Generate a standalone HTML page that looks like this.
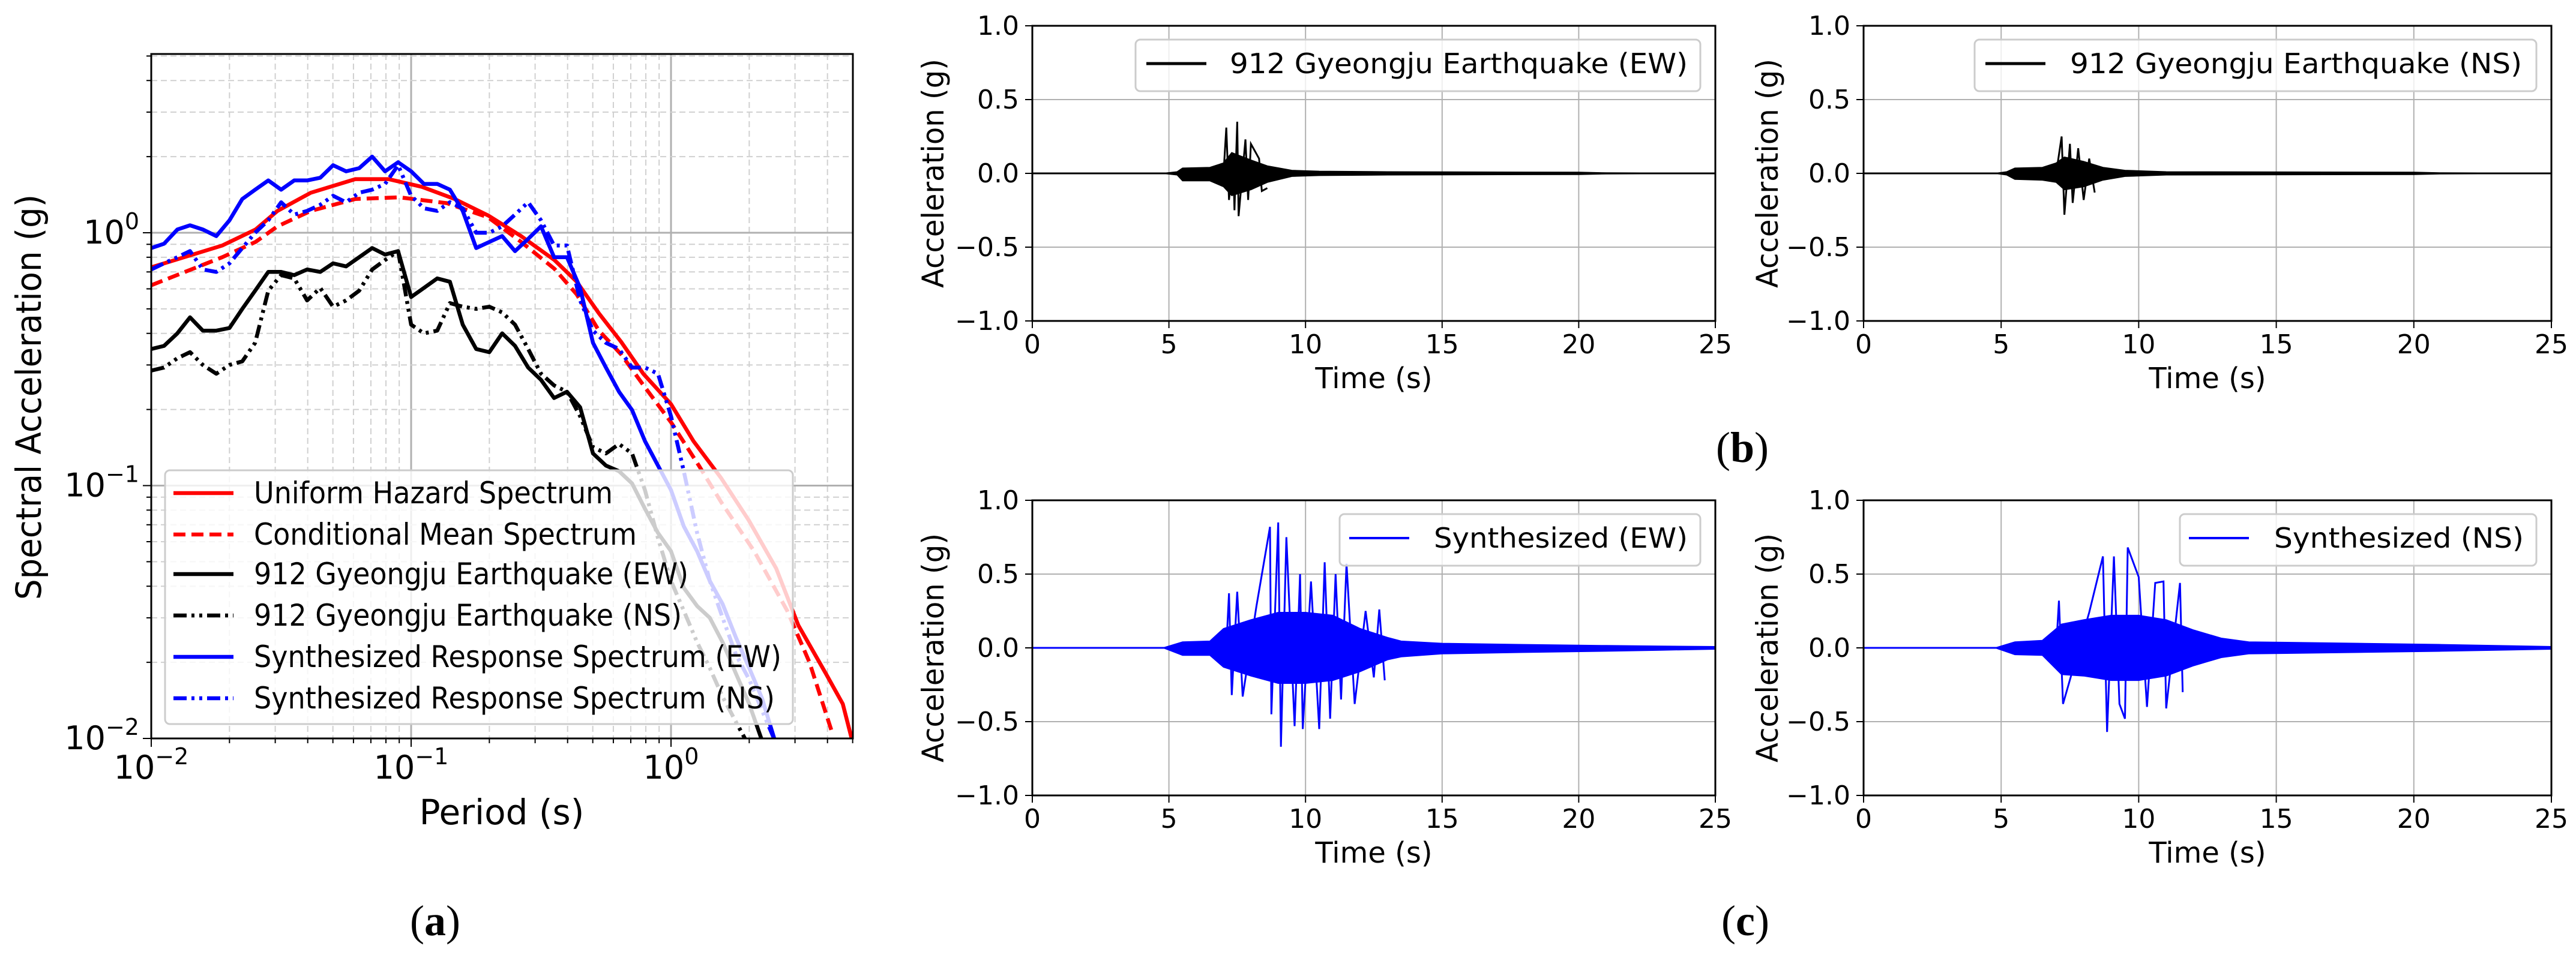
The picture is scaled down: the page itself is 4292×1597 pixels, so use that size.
<!DOCTYPE html>
<html><head><meta charset="utf-8"><style>
html,body{margin:0;padding:0;background:#fff;}
svg{display:block;font-family:"DejaVu Sans","Liberation Sans",sans-serif;}
</style></head><body>
<svg id="fig" width="4292" height="1597" viewBox="0 0 4292 1597" xmlns="http://www.w3.org/2000/svg">
<rect width="4292" height="1597" fill="#fff"/>
</svg>
<script>
// ---------- Panel (a) data ----------
const periodGrid = [0.01,0.0112,0.0126,0.0141,0.0158,0.0178,0.02,0.0224,0.0251,0.0282,0.0316,0.0355,0.0398,0.0447,0.0501,0.0562,0.0631,0.0708,0.0794,0.0891,0.1,0.112,0.126,0.141,0.158,0.178,0.2,0.224,0.251,0.282,0.316,0.355,0.398,0.447,0.501,0.562,0.631,0.708,0.794,0.891,1,1.12,1.26,1.41,1.58,1.78,2,2.24,2.51,2.82,3.16,3.55,3.98,4.47,5.01];
const uhsPeriods = [0.01,0.01875,0.0252,0.0306,0.0411,0.061,0.0818,0.110,0.147,0.198,0.265,0.356,0.434,0.528,0.643,0.782,1.0,1.22,1.56,1.99,2.54,3.09,3.95,4.58,4.98];
const uhsSa = [0.73,0.89,1.03,1.22,1.44,1.63,1.63,1.52,1.36,1.17,0.97,0.78,0.64,0.48,0.37,0.277,0.21,0.15,0.107,0.073,0.047,0.028,0.018,0.0137,0.0098];
const cmsPeriods = [0.01,0.01875,0.0252,0.0306,0.0411,0.061,0.0902,0.137,0.198,0.265,0.356,0.434,0.528,0.643,0.782,1.0,1.28,1.56,2.09,2.8,3.41,4.15];
const cmsSa = [0.62,0.80,0.92,1.06,1.22,1.36,1.38,1.31,1.15,0.92,0.72,0.57,0.41,0.33,0.25,0.178,0.12,0.086,0.055,0.032,0.020,0.0107];
const ewSa = [0.347,0.357,0.40,0.463,0.41,0.41,0.42,0.50,0.59,0.70,0.70,0.68,0.716,0.70,0.757,0.736,0.80,0.87,0.82,0.846,0.557,0.605,0.66,0.64,0.433,0.347,0.337,0.40,0.357,0.293,0.262,0.222,0.235,0.204,0.134,0.12,0.114,0.102,0.081,0.065,0.055,0.0394,0.0334,0.030,0.024,0.018,0.0137,0.0098];
const nsSa = [0.285,0.293,0.319,0.337,0.30,0.277,0.30,0.31,0.367,0.59,0.68,0.66,0.54,0.605,0.51,0.54,0.59,0.716,0.78,0.846,0.433,0.40,0.41,0.527,0.51,0.50,0.51,0.484,0.433,0.347,0.277,0.249,0.235,0.188,0.142,0.134,0.146,0.134,0.096,0.062,0.042,0.032,0.024,0.019,0.0146,0.0116,0.0093];
const synEwSa = [0.87,0.905,1.03,1.07,1.03,0.97,1.12,1.36,1.48,1.61,1.48,1.61,1.61,1.65,1.85,1.75,1.80,2.0,1.75,1.90,1.75,1.56,1.56,1.48,1.22,0.87,0.92,0.97,0.846,0.946,1.06,0.80,0.80,0.605,0.367,0.293,0.235,0.199,0.15,0.12,0.096,0.069,0.055,0.042,0.034,0.025,0.019,0.0144,0.0098];
const synNsSa = [0.716,0.757,0.80,0.846,0.716,0.70,0.757,0.87,1.0,1.12,1.32,1.18,1.22,1.29,1.40,1.32,1.44,1.48,1.56,1.85,1.40,1.25,1.22,1.32,1.25,1.0,1.0,1.06,1.18,1.32,1.12,0.89,0.89,0.54,0.41,0.367,0.347,0.293,0.293,0.277,0.188,0.114,0.065,0.042,0.030,0.0214,0.0171,0.0129,0.0098];
const legendLabelsA = ["Uniform Hazard Spectrum","Conditional Mean Spectrum","912 Gyeongju Earthquake (EW)","912 Gyeongju Earthquake (NS)","Synthesized Response Spectrum (EW)","Synthesized Response Spectrum (NS)"];
const xTickExpA = ["\u22122","\u22121","0"];
const yTickExpA = ["0","\u22121","\u22122"];

// ---------- Time-history data ----------
const timeTicks = [0,5,10,15,20,25];
const accTicks = [1.0,0.5,0.0,-0.5,-1.0];
const accTickLabels = ["1.0","0.5","0.0","\u22120.5","\u22121.0"];
const bEwEnvT = [0,4.8,5.3,5.5,6.5,7.0,7.3,8.0,8.6,9.5,10.5,13,20,21,25];
const bEwUp  = [0,0,0.01,0.035,0.04,0.07,0.14,0.09,0.05,0.02,0.014,0.01,0.007,0.003,0];
const bEwLo  = [0,0,-0.01,-0.05,-0.05,-0.09,-0.15,-0.11,-0.06,-0.02,-0.014,-0.01,-0.007,-0.003,0];
const bEwPkT = [7.0,7.1,7.2,7.35,7.4,7.5,7.55,7.8,7.9,8.0,8.3,8.4,8.6];
const bEwPkV = [0.0,0.31,-0.18,0.10,-0.25,0.35,-0.29,0.23,-0.18,0.20,0.10,-0.12,-0.10];
const bNsEnvT = [0,4.8,5.2,5.5,6.5,7.0,7.3,8.0,8.7,9.5,11,20,21,25];
const bNsUp  = [0,0,0.01,0.035,0.04,0.07,0.11,0.08,0.04,0.02,0.01,0.007,0.003,0];
const bNsLo  = [0,0,-0.01,-0.04,-0.045,-0.06,-0.11,-0.09,-0.045,-0.02,-0.01,-0.007,-0.003,0];
const bNsPkT = [7.0,7.2,7.3,7.5,7.6,7.8,8.0,8.2,8.4];
const bNsPkV = [0.0,0.25,-0.28,0.20,-0.20,0.17,-0.18,0.10,-0.13];
const cEwEnvT = [0,4.8,5.5,6.5,7.0,8.0,9.0,10.0,11.0,12.0,13.0,13.5,15,18,21,23,25];
const cEwUp  = [0,0,0.04,0.045,0.13,0.19,0.24,0.24,0.22,0.13,0.07,0.045,0.03,0.022,0.015,0.011,0.008];
const cEwLo  = [0,0,-0.05,-0.05,-0.13,-0.19,-0.24,-0.24,-0.22,-0.16,-0.08,-0.06,-0.04,-0.03,-0.022,-0.015,-0.008];
const cEwPkT = [7.1,7.2,7.3,7.5,7.7,8.2,8.7,8.75,9.0,9.1,9.3,9.6,9.8,9.9,10.2,10.5,10.7,10.9,11.1,11.3,11.5,11.8,12.2,12.5,12.7,12.9];
const cEwPkV = [0.0,0.37,-0.32,0.38,-0.33,0.28,0.82,-0.45,0.85,-0.67,0.75,-0.53,0.50,-0.55,0.45,-0.55,0.58,-0.48,0.50,-0.35,0.57,-0.38,0.25,-0.2,0.26,-0.22];
const cNsEnvT = [0,4.8,5.5,6.5,7.2,8.0,9.0,10.0,11.0,12.0,13.0,14.0,18,21,25];
const cNsUp  = [0,0,0.04,0.05,0.16,0.19,0.22,0.22,0.19,0.12,0.065,0.04,0.03,0.022,0.008];
const cNsLo  = [0,0,-0.045,-0.05,-0.18,-0.19,-0.22,-0.22,-0.19,-0.12,-0.065,-0.04,-0.03,-0.022,-0.008];
const cNsPkT = [7.0,7.1,7.25,8.2,8.7,8.85,9.1,9.3,9.5,9.6,10.0,10.3,10.6,10.9,11.0,11.5,11.6];
const cNsPkV = [0.0,0.32,-0.38,0.24,0.62,-0.57,0.62,-0.38,-0.48,0.68,0.48,-0.40,0.44,0.45,-0.41,0.44,-0.30];

const NS = "http://www.w3.org/2000/svg";
const svg = document.getElementById('fig');
function el(tag, attrs, parent){ const e=document.createElementNS(NS,tag); for(const k in attrs) e.setAttribute(k,attrs[k]); (parent||svg).appendChild(e); return e; }

const A = {l:252,r:1421,t:90,b:1231};
const xA = T => A.l + 433*(Math.log10(T)+2);
const yA = S => 388 - 421.5*Math.log10(S);
const gA = el('g',{});


const defs = el('defs',{});
const cp = el('clipPath',{id:'clipA'},defs);
el('rect',{x:A.l,y:A.t,width:A.r-A.l,height:A.b-A.t},cp);
for(let d=-2; d<=0; d++){
  for(let m=1;m<=9;m++){
    const v=m*Math.pow(10,d); if(v>5.01) continue;
    const x=xA(v);
    const gl=el('line',{x1:x,x2:x,y1:A.t,y2:A.b,stroke:m===1?'#b0b0b0':'#d0d0d0','stroke-width':m===1?3:2,'stroke-dasharray':m===1?'':'10,6'},gA);
    
    
    el('line',{x1:x,x2:x,y1:A.b,y2:A.b+(m===1?14:8),stroke:'#000','stroke-width':2},gA);
  }
}
for(let d=-2; d<=0; d++){
  for(let m=1;m<=9;m++){
    const v=m*Math.pow(10,d); if(v>5.01) continue;
    const y=yA(v);
    const gl=el('line',{x1:A.l,x2:A.r,y1:y,y2:y,stroke:m===1?'#b0b0b0':'#d0d0d0','stroke-width':m===1?3:2,'stroke-dasharray':m===1?'':'10,6'},gA);
    
    
    el('line',{x1:A.l,x2:A.l-(m===1?14:8),y1:y,y2:y,stroke:'#000','stroke-width':2},gA);
  }
}
function pathFrom(xs, ys, fx, fy){ let d='',pen=false; for(let i=0;i<xs.length;i++){ if(i>=ys.length||ys[i]==null){pen=false;continue;} d+=(pen?'L':'M')+fx(xs[i]).toFixed(1)+','+fy(ys[i]).toFixed(1); pen=true;} return d; }
const seriesA = [
  {name:'uhs-line', x:uhsPeriods, y:uhsSa, c:'#ff0000', dash:''},
  {name:'cms-line', x:cmsPeriods, y:cmsSa, c:'#ff0000', dash:'20,10'},
  {name:'gyeongju-ew-spectrum', x:periodGrid, y:ewSa, c:'#000', dash:''},
  {name:'gyeongju-ns-spectrum', x:periodGrid, y:nsSa, c:'#000', dash:'22,8,5,8,5,8'},
  {name:'synth-ew-spectrum', x:periodGrid, y:synEwSa, c:'#0000ff', dash:''},
  {name:'synth-ns-spectrum', x:periodGrid, y:synNsSa, c:'#0000ff', dash:'22,8,5,8,5,8'}
];
const gSer = el('g',{'clip-path':'url(#clipA)'},gA);
seriesA.forEach(s=>{
  const p = el('path',{d:pathFrom(s.x,s.y,xA,yA),fill:'none',stroke:s.c,'stroke-width':6.5,'stroke-dasharray':s.dash,'stroke-linejoin':'round'},gSer);
  
  
});
const frA = el('rect',{x:A.l,y:A.t,width:A.r-A.l,height:A.b-A.t,fill:'none',stroke:'#000','stroke-width':3},gA);


[0.01,0.1,1].forEach((v,i)=>{
  const t=el('text',{x:xA(v),y:1298,'font-size':54,'text-anchor':'middle'},gA);
  
  
  t.appendChild(document.createTextNode('10'));
  const s=el('tspan',{'font-size':38,dy:-24},t); s.textContent=xTickExpA[i];
});
[1,0.1,0.01].forEach((v,i)=>{
  const t=el('text',{x:232,y:yA(v)+18,'font-size':54,'text-anchor':'end'},gA);
  
  
  t.appendChild(document.createTextNode('10'));
  const s=el('tspan',{'font-size':38,dy:-24},t); s.textContent=yTickExpA[i];
});
const xla=el('text',{x:836,y:1374,'font-size':58,'text-anchor':'middle'},gA);


xla.textContent='Period (s)';
const yla=el('text',{x:0,y:0,'font-size':58,'text-anchor':'middle',transform:'translate(68,662) rotate(-90)',textLength:676,lengthAdjust:'spacingAndGlyphs'},gA);


yla.textContent='Spectral Acceleration (g)';
const lgA = el('g',{},gA);


el('rect',{x:275,y:784,width:1046,height:423,rx:8,fill:'#fff','fill-opacity':0.8,stroke:'#cccccc','stroke-width':3},lgA);
const legY=[822,891,957,1026,1095,1164];
const legLen=[598,638,724,713,879,868];
seriesA.forEach((s,i)=>{
  const ln=el('line',{x1:289,x2:389,y1:legY[i],y2:legY[i],stroke:s.c,'stroke-width':6.5,'stroke-dasharray':s.dash},lgA);
  
  
  const tx=el('text',{x:423,y:legY[i]+17,'font-size':50,textLength:legLen[i],lengthAdjust:'spacingAndGlyphs'},lgA);
  
  
  tx.textContent=legendLabelsA[i];
});

function timePanel(o){
  const g=el('g',{});
  
  
  const zero=(o.t+o.b)/2, k=(o.b-o.t)/2;
  const fx=t=>o.l+(o.r-o.l)*t/25, fy=v=>zero-k*v;
  timeTicks.forEach(tv=>{
    const x=fx(tv);
    if(tv>0&&tv<25){ const gl=el('line',{x1:x,x2:x,y1:o.t,y2:o.b,stroke:'#b0b0b0','stroke-width':2},g);
      
       }
    el('line',{x1:x,x2:x,y1:o.b,y2:o.b+12,stroke:'#000','stroke-width':2},g);
    const t=el('text',{x:x,y:o.b+54,'font-size':44,'text-anchor':'middle'},g);
    
    
    t.textContent=String(tv);
  });
  accTicks.forEach((v,i)=>{
    const y=fy(v);
    if(v!==1&&v!==-1){ const gl=el('line',{x1:o.l,x2:o.r,y1:y,y2:y,stroke:'#b0b0b0','stroke-width':2},g);
      
       }
    el('line',{x1:o.l,x2:o.l-12,y1:y,y2:y,stroke:'#000','stroke-width':2},g);
    const t=el('text',{x:o.l-22,y:y+15,'font-size':44,'text-anchor':'end'},g);
    
    
    t.textContent=accTickLabels[i];
  });
  let d='M'+fx(o.envT[0])+','+fy(o.up[0]);
  for(let i=1;i<o.envT.length;i++) d+='L'+fx(o.envT[i]).toFixed(1)+','+fy(o.up[i]).toFixed(1);
  for(let i=o.envT.length-1;i>=0;i--) d+='L'+fx(o.envT[i]).toFixed(1)+','+fy(o.lo[i]).toFixed(1);
  const band=el('path',{d:d+'Z',fill:o.c,stroke:o.c,'stroke-width':2},g);
  
  
  const zl=el('line',{x1:o.l,x2:o.r,y1:zero,y2:zero,stroke:o.c,'stroke-width':3},g);
  
  
  let pd='';
  for(let i=0;i<o.pkT.length;i++) pd+=(i?'L':'M')+fx(o.pkT[i]).toFixed(1)+','+fy(o.pkV[i]).toFixed(1);
  const pk=el('path',{d:pd,fill:'none',stroke:o.c,'stroke-width':3,'stroke-linejoin':'miter'},g);
  
  
  const fr=el('rect',{x:o.l,y:o.t,width:o.r-o.l,height:o.b-o.t,fill:'none',stroke:'#000','stroke-width':3},g);
  
  
  const lg=el('g',{},g);
  
  
  el('rect',{x:o.lg[0],y:o.t+23,width:o.lg[1]-o.lg[0],height:86,rx:8,fill:'#fff','fill-opacity':0.8,stroke:'#cccccc','stroke-width':3},lg);
  const ly=o.t+63;
  el('line',{x1:o.lg[2],x2:o.lg[2]+100,y1:ly,y2:ly,stroke:o.c,'stroke-width':o.c==='#000'?5:4},lg);
  const lt=el('text',{x:o.lg[3],y:ly+16,'font-size':46,textLength:o.lg[4],lengthAdjust:'spacingAndGlyphs'},lg);
  
  
  lt.textContent=o.label;
  const xl=el('text',{x:(o.l+o.r)/2,y:o.b+112,'font-size':48,'text-anchor':'middle'},g);
  
  
  xl.textContent='Time (s)';
  const yl=el('text',{x:0,y:0,'font-size':50,'text-anchor':'middle',transform:`translate(${o.ylx},${zero}) rotate(-90)`,textLength:382,lengthAdjust:'spacingAndGlyphs'},g);
  
  
  yl.textContent='Acceleration (g)';
}
timePanel({name:'gyeongju-ew-chart',l:1720,r:2858,t:43,b:535,c:'#000',envT:bEwEnvT,up:bEwUp,lo:bEwLo,pkT:bEwPkT,pkV:bEwPkV,lg:[1892,2833,1910,2049,763],label:'912 Gyeongju Earthquake (EW)',ylx:1572});
timePanel({name:'gyeongju-ns-chart',l:3105,r:4251,t:43,b:535,c:'#000',envT:bNsEnvT,up:bNsUp,lo:bNsLo,pkT:bNsPkT,pkV:bNsPkV,lg:[3290,4226,3308,3449,753],label:'912 Gyeongju Earthquake (NS)',ylx:2962});
timePanel({name:'synth-ew-chart',l:1720,r:2858,t:834,b:1326,c:'#0000ff',envT:cEwEnvT,up:cEwUp,lo:cEwLo,pkT:cEwPkT,pkV:cEwPkV,lg:[2232,2833,2248,2389,423],label:'Synthesized (EW)',ylx:1572});
timePanel({name:'synth-ns-chart',l:3105,r:4251,t:834,b:1326,c:'#0000ff',envT:cNsEnvT,up:cNsUp,lo:cNsLo,pkT:cNsPkT,pkV:cNsPkV,lg:[3632,4226,3647,3789,416],label:'Synthesized (NS)',ylx:2962});

[['(a)',725,1559,'panel-label-a'],['(b)',2903,770,'panel-label-b'],['(c)',2908,1559,'panel-label-c']].forEach(p=>{
  const t=el('text',{x:p[1],y:p[2],'font-size':72,'text-anchor':'middle','font-family':'"Liberation Serif",serif'});
  
  
  t.appendChild(document.createTextNode('('));
  const b=el('tspan',{'font-weight':'bold'},t); b.textContent=p[0][1];
  t.appendChild(document.createTextNode(')'));
});
</script>
</body></html>
